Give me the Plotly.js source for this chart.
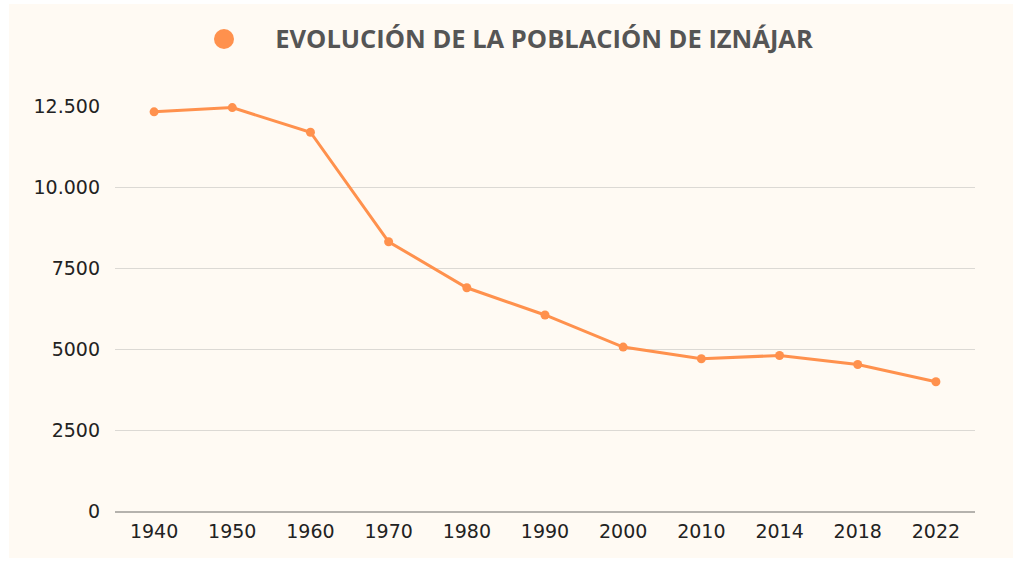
<!DOCTYPE html>
<html>
<head>
<meta charset="utf-8">
<script src="https://cdn.plot.ly/plotly-3.0.1.min.js"></script>
<style>
  html, body { margin: 0; padding: 0; background: #ffffff; width: 1021px; height: 562px; overflow: hidden; }
  #chart { position: absolute; left: 9px; top: 4px; width: 1004px; height: 554px; }
</style>
</head>
<body>
<div id="chart"></div>
<script>
const years = ["1940", "1950", "1960", "1970", "1980", "1990", "2000", "2010", "2014", "2018", "2022"];
const population = [12320, 12450, 11690, 8310, 6890, 6050, 5060, 4700, 4800, 4520, 3990];
const yTickVals = [0, 2500, 5000, 7500, 10000, 12500];
const yTickText = ["0", "2500", "5000", "7500", "10.000", "12.500"];
const chartTitle = "EVOLUCIÓN DE LA POBLACIÓN DE IZNÁJAR";

const orange = "#ff914d";

const trace = {
  x: years,
  y: population,
  type: "scatter",
  mode: "lines+markers",
  line: { color: orange, width: 3 },
  marker: { color: orange, size: 9 },
  cliponaxis: false,
  showlegend: false,
  hoverinfo: "x+y"
};

const layout = {
  width: 1004,
  height: 554,
  margin: { l: 106, r: 38, t: 102, b: 47 },
  paper_bgcolor: "#fffaf3",
  plot_bgcolor: "rgba(0,0,0,0)",
  title: {
    text: "<b>" + chartTitle + "</b>",
    font: { family: "Open Sans", size: 25.5, color: "#555555" },
    xref: "container", x: 0.5329, xanchor: "center",
    yref: "container", y: 0.9368, yanchor: "middle"
  },
  xaxis: {
    type: "category",
    range: [-0.5, years.length - 0.5],
    showgrid: false,
    showline: true,
    linecolor: "#b5b2ad",
    linewidth: 1.5,
    ticks: "",
    ticklabelstandoff: 3,
    tickfont: { family: "DejaVu Sans", size: 19, color: "#222222" },
    zeroline: false,
    fixedrange: true
  },
  yaxis: {
    range: [0, 12500],
    tickvals: yTickVals,
    ticktext: yTickText,
    showgrid: true,
    gridcolor: "#dcd9d4",
    gridwidth: 1,
    zeroline: false,
    showline: false,
    ticks: "",
    ticklabelstandoff: 14,
    tickfont: { family: "DejaVu Sans", size: 19, color: "#222222" },
    fixedrange: true
  },
  shapes: [{
    type: "circle",
    xref: "paper", yref: "paper",
    xsizemode: "pixel", ysizemode: "pixel",
    xanchor: (224 - 115) / 860, yanchor: (511 - 39) / 405,
    x0: -10, x1: 10, y0: -10, y1: 10,
    fillcolor: orange,
    line: { width: 0 }
  }],
  showlegend: false
};

Plotly.newPlot("chart", [trace], layout, { displayModeBar: false, staticPlot: true });
</script>
</body>
</html>
